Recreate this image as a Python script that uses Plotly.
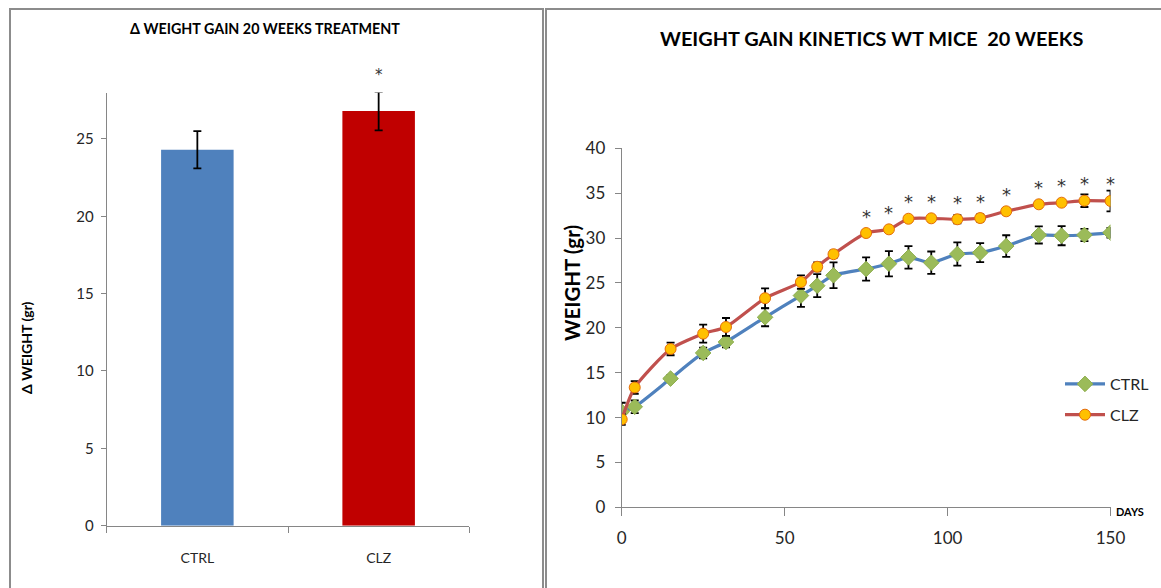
import plotly.graph_objects as go

# ---------------- data ----------------
bar_categories = ["CTRL", "CLZ"]
bar_values = [24.3, 26.8]
bar_errors = [1.2, 1.25]
bar_sig = ["", "*"]

days = [0, 4, 15, 25, 32, 44, 55, 60, 65, 75, 82, 88, 95, 103, 110, 118, 128, 135, 142, 150]
ctrl_weight = [10.65, 11.2, 14.34, 17.2, 18.42, 21.17, 23.59, 24.69, 25.85, 26.55,
               27.14, 27.85, 27.25, 28.22, 28.37, 29.11, 30.34, 30.26, 30.34, 30.6]
ctrl_err = [1.0, 0.7, 0.4, 0.6, 0.6, 1.0, 1.25, 1.28, 1.43, 1.3,
            1.4, 1.25, 1.25, 1.3, 1.06, 1.2, 0.95, 1.06, 0.69, 0.54]
clz_weight = [9.8, 13.35, 17.64, 19.35, 20.09, 23.3, 25.1, 26.8, 28.2, 30.56,
              30.97, 32.15, 32.2, 32.09, 32.23, 32.98, 33.76, 33.94, 34.16, 34.13]
clz_err = [0.6, 0.7, 0.7, 1.0, 1.0, 1.1, 0.75, 0.5, 0.4, 0.3,
           0.3, 0.3, 0.3, 0.45, 0.4, 0.35, 0.3, 0.3, 0.7, 1.15]
clz_sig = ["", "", "", "", "", "", "", "", "", "*",
           "*", "*", "*", "*", "*", "*", "*", "*", "*", "*"]

FONT = "Lato"
STAR_FONT = "DejaVu Sans"
W, H = 1161, 588

def px_x(p):
    return p / W

def px_y(p):
    return 1 - p / H

fig = go.Figure()

# ---------------- left bar chart ----------------
fig.add_trace(go.Bar(
    x=bar_categories, y=bar_values,
    marker=dict(color=["#4F81BD", "#C00000"], line=dict(width=0)),
    width=0.4,
    error_y=dict(type="data", array=bar_errors, color="black", thickness=1.8, width=4),
    xaxis="x", yaxis="y", showlegend=False, hoverinfo="skip",
))

# ---------------- right line chart ----------------
fig.add_trace(go.Scatter(
    x=days, y=ctrl_weight, name="CTRL", mode="lines+markers",
    line=dict(color="#4F81BD", width=3.2, shape="spline", smoothing=0.6),
    marker=dict(symbol="diamond", size=12, color="#9BBB59",
                line=dict(color="#8FAF4F", width=1)),
    error_y=dict(type="data", array=ctrl_err, color="black", thickness=1.8, width=4),
    xaxis="x2", yaxis="y2", legendgroup="a",
))
fig.add_trace(go.Scatter(
    x=days, y=clz_weight, name="CLZ", mode="lines+markers",
    line=dict(color="#C0504D", width=3.2, shape="spline", smoothing=0.6),
    marker=dict(symbol="circle", size=11, color="#FFC000",
                line=dict(color="#E46C0A", width=1)),
    error_y=dict(type="data", array=clz_err, color="black", thickness=1.8, width=4),
    xaxis="x2", yaxis="y2", legendgroup="b",
))

annotations = []
# significance stars
for c, v, s in zip(bar_categories, bar_values, bar_sig):
    if s:
        annotations.append(dict(x=c, y=v, xref="x", yref="y", text=s, showarrow=False,
                                xanchor="center", yanchor="middle", yshift=36,
                                font=dict(family=STAR_FONT, size=15, color="#333333")))
for d, v, s in zip(days, clz_weight, clz_sig):
    if s:
        annotations.append(dict(x=d, y=v, xref="x2", yref="y2", text=s, showarrow=False,
                                xanchor="center", yanchor="middle", yshift=17,
                                font=dict(family=STAR_FONT, size=18, color="#333333")))

# titles
annotations += [
    dict(x=px_x(265), y=px_y(28), xref="paper", yref="paper", showarrow=False,
         xanchor="center", yanchor="middle",
         text="<b>Δ WEIGHT GAIN 20 WEEKS TREATMENT</b>",
         font=dict(family=FONT, size=14.3, color="black")),
    dict(x=px_x(871), y=px_y(38), xref="paper", yref="paper", showarrow=False,
         xanchor="center", yanchor="middle",
         text="<b>WEIGHT GAIN KINETICS WT MICE  20 WEEKS</b>",
         font=dict(family=FONT, size=19.9, color="black")),
    dict(x=px_x(26), y=px_y(348), xref="paper", yref="paper", showarrow=False,
         xanchor="center", yanchor="middle",
         text="<b>Δ WEIGHT (gr)</b>", textangle=-90,
         font=dict(family=FONT, size=14, color="black")),
    dict(x=px_x(572), y=px_y(283), xref="paper", yref="paper", showarrow=False,
         xanchor="center", yanchor="middle",
         text="<b>WEIGHT (gr)</b>", textangle=-90,
         font=dict(family=FONT, size=20.5, color="black")),
    dict(x=px_x(1114), y=px_y(511), xref="paper", yref="paper", showarrow=False,
         xanchor="left", yanchor="middle", text="<b>DAYS</b>",
         font=dict(family=FONT, size=11, color="black")),
]

axis_common = dict(showgrid=False, zeroline=False, showline=True, linecolor="#868686",
                   linewidth=1, ticks="outside", tickcolor="#868686", automargin=False)

fig.update_layout(
    width=W, height=H, autosize=False,
    margin=dict(l=0, r=0, t=0, b=0, pad=0, autoexpand=False),
    paper_bgcolor="white", plot_bgcolor="white",
    xaxis=dict(domain=[px_x(106.7), px_x(469.3)], range=[-0.5, 1.5], anchor="y",
               tickson="boundaries", ticklen=6, ticklabelstandoff=19,
               tickfont=dict(family=FONT, size=14, color="#262626"), **axis_common),
    yaxis=dict(domain=[px_y(525.7), px_y(92.5)], range=[0, 28], anchor="x",
               tickvals=[0, 5, 10, 15, 20, 25], ticklen=5, ticklabelstandoff=4,
               tickfont=dict(family=FONT, size=15, color="#262626"), **axis_common),
    xaxis2=dict(domain=[px_x(621.7), px_x(1110.5)], range=[0, 150], anchor="y2",
                tickvals=[0, 50, 100, 150], ticklen=8, ticklabelstandoff=7,
                tickfont=dict(family=FONT, size=17, color="#262626"), **axis_common),
    yaxis2=dict(domain=[px_y(507.3), px_y(148.3)], range=[0, 40], anchor="x2",
                tickvals=list(range(0, 45, 5)), ticklen=6, ticklabelstandoff=6,
                tickfont=dict(family=FONT, size=17, color="#262626"), **axis_common),
    legend=dict(x=px_x(1060), y=px_y(367), xanchor="left", yanchor="top",
                bgcolor="rgba(0,0,0,0)", font=dict(family=FONT, size=16, color="#262626"),
                itemwidth=40, tracegroupgap=7),
    annotations=annotations,
    shapes=[
        dict(type="rect", xref="paper", yref="paper",
             x0=px_x(10), x1=px_x(543), y0=px_y(620), y1=px_y(9),
             line=dict(color="#8C8C8C", width=2), fillcolor="rgba(0,0,0,0)", layer="below"),
        dict(type="rect", xref="paper", yref="paper",
             x0=px_x(546), x1=px_x(1200), y0=px_y(620), y1=px_y(9),
             line=dict(color="#8C8C8C", width=2), fillcolor="rgba(0,0,0,0)", layer="below"),
    ],
)

fig.write_html("out.html")
